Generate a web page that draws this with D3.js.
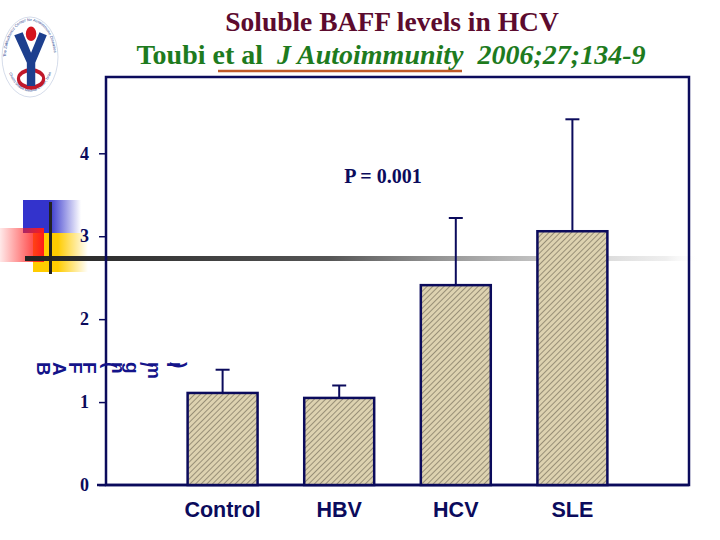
<!DOCTYPE html>
<html><head><meta charset="utf-8">
<script src="https://cdn.jsdelivr.net/npm/d3@7"></script>
<style>html,body{margin:0;padding:0;background:#fff;}svg{display:block;}</style>
</head><body>
<script>
const categories = ["Control", "HBV", "HCV", "SLE"];
const means = [1.11, 1.05, 2.41, 3.06];
const errorTops = [1.39, 1.2, 3.22, 4.41];
const yTicks = [0, 1, 2, 3, 4];
const titleLine1 = "Soluble BAFF levels in HCV";
const pText = "P = 0.001";
const yLabel = "BAFF (ng/ml)";

const W = 720, H = 540;
const navy = "#0b0b5c";
const svg = d3.select("body").append("svg").attr("width", W).attr("height", H);
const defs = svg.append("defs");

function lg(id, stops, x2, y2) {
  const g = defs.append("linearGradient").attr("id", id).attr("x1", 0).attr("y1", 0).attr("x2", x2).attr("y2", y2);
  stops.forEach(s => g.append("stop").attr("offset", s[0]).attr("stop-color", s[1]).attr("stop-opacity", s[2]));
}
lg("gBlue", [[0, "#3333cc", 1], [0.45, "#3333cc", 1], [1, "#3333cc", 0]], 1, 0);
lg("gYel", [[0, "#ffcc00", 1], [0.45, "#ffcc00", 1], [1, "#ffcc00", 0]], 1, 0);
lg("gRed", [[0, "#ff2020", 0.1], [1, "#ff1a1a", 1]], 1, 0);
lg("gLine", [[0, "#222", 1], [0.45, "#555", 1], [0.95, "#e4e4e4", 0.6], [1, "#fff", 0]], 1, 0);

const pat = defs.append("pattern").attr("id", "hatch").attr("patternUnits", "userSpaceOnUse")
  .attr("width", 4).attr("height", 4).attr("patternTransform", "rotate(45)");
pat.append("rect").attr("width", 4).attr("height", 4).attr("fill", "#ddd2b0");
pat.append("line").attr("x1", 0).attr("y1", 0).attr("x2", 0).attr("y2", 4).attr("stroke", "#2e2a20").attr("stroke-width", 0.8);

// decoration
svg.append("rect").attr("x", 23).attr("y", 200).attr("width", 58).attr("height", 33).attr("fill", "url(#gBlue)");
svg.append("rect").attr("x", 33).attr("y", 233).attr("width", 55).attr("height", 39).attr("fill", "url(#gYel)");
svg.append("rect").attr("x", 0).attr("y", 228).attr("width", 44).attr("height", 34).attr("fill", "url(#gRed)");
svg.append("rect").attr("x", 25).attr("y", 256).attr("width", 675).attr("height", 5).attr("fill", "url(#gLine)");
svg.append("rect").attr("x", 49).attr("y", 202).attr("width", 3).attr("height", 72).attr("fill", "#222");

// logo
const logo = svg.append("g").attr("transform", "translate(30,57)");
logo.append("ellipse").attr("rx", 28).attr("ry", 40).attr("fill", "#fff").attr("stroke", "#b8c4dc").attr("stroke-width", 0.6);
defs.append("path").attr("id", "logoArc").attr("d", "M -24 0 A 24 36 0 0 1 24 0");
logo.append("text").attr("font-family", "Arial").attr("font-size", 4).attr("fill", "#2b3f8f")
  .append("textPath").attr("href", "#logoArc").text("The Zabludowicz Center for Autoimmune Diseases");
defs.append("path").attr("id", "logoArc2").attr("d", "M -21 16 A 24 36 0 0 0 21 16");
logo.append("text").attr("font-family", "Arial").attr("font-size", 3.8).attr("fill", "#2b3f8f")
  .append("textPath").attr("href", "#logoArc2").text("Chaim Sheba Medical Center, Israel");
const lgY = logo.append("g").attr("transform", "scale(1.05,1.45)");
lgY.append("ellipse").attr("cx", 1).attr("cy", 15).attr("rx", 12).attr("ry", 6).attr("fill", "none").attr("stroke", "#c0182a").attr("stroke-width", 3);
lgY.append("path").attr("d", "M -15 -15 L -7 -17 L 1 -3 L 9 -17 L 16 -15 L 5 4 L 5 20 L -3 20 L -3 4 Z").attr("fill", "#1d3f8e");
lgY.append("circle").attr("cx", 1).attr("cy", -16).attr("r", 5).attr("fill", "#d4141e");

// titles
svg.append("text").attr("x", 392).attr("y", 31).attr("text-anchor", "middle")
  .attr("font-family", "Liberation Serif, Times New Roman, serif").attr("font-weight", "bold").attr("font-size", 27.5)
  .attr("fill", "#5c0b2e").text(titleLine1);
const t2 = svg.append("text").attr("x", 391).attr("y", 64).attr("text-anchor", "middle")
  .attr("font-family", "Liberation Serif, Times New Roman, serif").attr("font-weight", "bold").attr("font-size", 28)
  .attr("fill", "#1e7b1e").attr("xml:space", "preserve");
t2.append("tspan").text("Toubi et al  ");
t2.append("tspan").attr("font-style", "italic").text("J Autoimmunity  2006;27;134-9");
svg.append("line").attr("x1", 218).attr("x2", 462).attr("y1", 71).attr("y2", 71).attr("stroke", "#c05a28").attr("stroke-width", 2.5);

// plot
const pLeft = 106, pRight = 689, pTop = 77, pBottom = 485;
const y = d3.scaleLinear().domain([0, 4.92]).range([pBottom, pTop]);
const slot = (pRight - pLeft) / 5;
const x = d3.scaleBand().domain(categories).range([pLeft + slot / 2, pRight - slot / 2]).paddingInner(0.4).paddingOuter(0.2);
const bw = x.bandwidth();

svg.append("rect").attr("x", pLeft).attr("y", pTop).attr("width", pRight - pLeft).attr("height", pBottom - pTop)
  .attr("fill", "none").attr("stroke", navy).attr("stroke-width", 2.5);
svg.append("line").attr("x1", 97).attr("x2", pRight).attr("y1", pBottom).attr("y2", pBottom).attr("stroke", navy).attr("stroke-width", 2.5);

const yAxis = d3.axisLeft(y).tickValues(yTicks).tickSize(7).tickPadding(10).tickFormat(d3.format("d"));
const ya = svg.append("g").attr("transform", `translate(${pLeft},0)`).call(yAxis);
ya.select(".domain").remove();
ya.selectAll(".tick line").attr("stroke", navy).attr("stroke-width", 1.5);
ya.selectAll(".tick text").attr("fill", navy).attr("font-family", "Liberation Serif, Times New Roman, serif")
  .attr("font-weight", "bold").attr("font-size", 18);

const xAxis = d3.axisBottom(x).tickSize(0).tickPadding(17);
const xa = svg.append("g").attr("transform", `translate(0,${pBottom})`).call(xAxis);
xa.select(".domain").remove();
xa.selectAll(".tick text").attr("fill", navy).attr("font-family", "Liberation Sans, Arial, sans-serif")
  .attr("font-weight", "bold").attr("font-size", 21.5);

const eb = svg.append("g");
categories.forEach((c, i) => {
  const cx = x(c) + bw / 2;
  eb.append("line").attr("x1", cx).attr("x2", cx).attr("y1", y(means[i])).attr("y2", y(errorTops[i])).attr("stroke", navy).attr("stroke-width", 2);
  eb.append("line").attr("x1", cx - 7).attr("x2", cx + 7).attr("y1", y(errorTops[i])).attr("y2", y(errorTops[i])).attr("stroke", navy).attr("stroke-width", 2);
});

svg.append("g").selectAll("rect").data(categories).join("rect")
  .attr("x", d => x(d)).attr("width", bw)
  .attr("y", (d, i) => y(means[i])).attr("height", (d, i) => pBottom - y(means[i]))
  .attr("fill", "url(#hatch)").attr("stroke", navy).attr("stroke-width", 2.5);

svg.append("text").attr("x", 383).attr("y", 183).attr("text-anchor", "middle")
  .attr("font-family", "Liberation Serif, Times New Roman, serif").attr("font-weight", "bold").attr("font-size", 20)
  .attr("fill", navy).text(pText);

svg.append("text").attr("x", 37).attr("y", 362).attr("rotate", 90)
  .attr("font-family", "Liberation Sans, Arial, sans-serif").attr("font-weight", "bold").attr("font-size", 19)
  .attr("letter-spacing", 2.2)
  .attr("fill", "#14148a").text(yLabel);
</script>
</body></html>
